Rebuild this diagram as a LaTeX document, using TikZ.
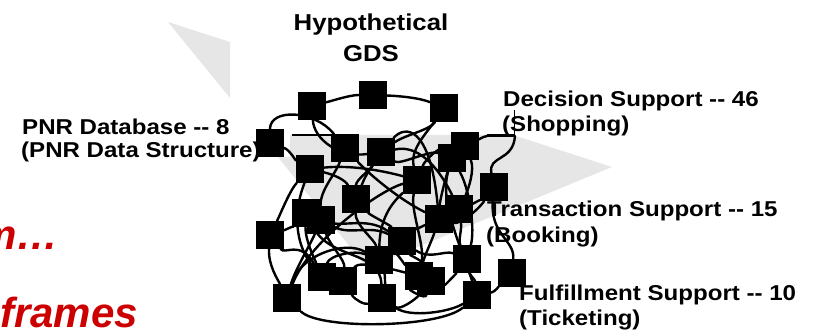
\documentclass[tikz,border=0pt]{standalone}
\usepackage{fontspec}
\setmainfont{Liberation Sans}
\newfontfamily\labf[FakeStretch=1.12]{Liberation Sans}
\definecolor{bggrey}{RGB}{230,230,230}
\definecolor{redtxt}{RGB}{204,0,0}
\begin{document}
\begin{tikzpicture}[x=1pt,y=-1pt,
  sq/.style={fill=black,draw=none,minimum size=28pt,inner sep=0pt,outer sep=0pt},
  wire/.style={line width=2.4pt,line cap=round},
  lab/.style={anchor=base west,inner sep=0pt,font=\labf\bfseries\fontsize{21.5pt}{24pt}\selectfont},
  ttl/.style={anchor=base,inner sep=0pt,font=\labf\bfseries\fontsize{23pt}{26pt}\selectfont},
  redlab/.style={anchor=base east,inner sep=0pt,text=redtxt,font=\bfseries\itshape\fontsize{42pt}{46pt}\selectfont}]
\useasboundingbox (0,0) rectangle (815,334);
% background grey triangle pieces
\fill[bggrey] (168,22) -- (230,42) -- (230,98) -- cycle;
\fill[bggrey] (290,135) -- (513,135) -- (612,167) -- (367,268) -- (278,157) -- (290,157) -- cycle;
% texts
\node[ttl] (t1) at (371,31) {Hypothetical};
\node[ttl] (t2) at (371,62) {GDS};
\node[lab] (l1) at (22,135) {PNR Database -- 8};
\node[lab] (l2) at (21,158) {(PNR Data Structure)};
\node[lab] (l3) at (503,107) {Decision Support -- 46};
\node[lab] (l4) at (502,132) {(Shopping)};
\node[lab] (l5) at (487,217) {Transaction Support -- 15};
\node[lab] (l6) at (486,243) {(Booking)};
\node[lab] (l7) at (519,300) {Fulfillment Support -- 10};
\node[lab] (l8) at (519,326) {(Ticketing)};
\node[redlab] (r1) at (59,250) {m…};
\node[redlab] (r2) at (138,327) {frames};
% squares
\node[sq] (s1) at (312,106) {};
\node[sq] (s2) at (373,95) {};
\node[sq] (s3) at (444,108) {};
\node[sq] (s4) at (270,143) {};
\node[sq] (s5) at (345,148) {};
\node[sq] (s6) at (381,152) {};
\node[sq] (s7) at (310,169) {};
\node[sq] (s9) at (452,158) {};
\node[sq] (s8) at (465,146) {};
\node[sq] (s10) at (417,180) {};
\node[sq] (s11) at (494,187) {};
\node[sq] (s12) at (356,199) {};
\node[sq] (s13) at (306,213) {};
\node[sq] (s14) at (321,220) {};
\node[sq] (s15) at (270,235) {};
\node[sq] (s17) at (439,219) {};
\node[sq] (s18) at (459,209) {};
\node[sq] (s19) at (402,241) {};
\node[sq] (s20) at (379,260) {};
\node[sq] (s21) at (467,259) {};
\node[sq] (s22) at (512,273) {};
\node[sq] (s23) at (322,277) {};
\node[sq] (s24) at (343,281) {};
\node[sq] (s25) at (419,276) {};
\node[sq] (s26) at (431,281) {};
\node[sq] (s27) at (287,298) {};
\node[sq] (s28) at (382,298) {};
\node[sq] (s29) at (477,295) {};
\coordinate (barL) at (487,136);
\coordinate (barR) at (515,136);
\coordinate (vtop) at (514,110);
\coordinate (vbot) at (514,135);
\coordinate (hl) at (292,135);
\coordinate (hr) at (332,135);
% odd bars
\draw[line width=1.2pt] (hl) -- (hr);
\draw[line width=3pt] (barL) -- (barR);
\draw[line width=1pt] (vtop) -- (vbot);
% connectors
\draw[wire] (s1) .. controls (335,100) and (350,95) .. (s2);
\draw[wire] (s2) .. controls (400,96) and (420,98) .. (s3);
\draw[wire] (s3) .. controls (430,130) and (405,135) .. (s6);
\draw[wire] (s1) .. controls (314,140) and (340,158) .. (s6);
\draw[wire] (s4) .. controls (270,108) and (315,110) .. (s5);
\draw[wire] (s4) .. controls (290,150) and (295,160) .. (s7);
\draw[wire] (s7) .. controls (350,165) and (380,170) .. (s10);
\draw[wire] (s7) .. controls (335,175) and (345,180) .. (s12);
\draw[wire] (s5) .. controls (335,175) and (320,190) .. (s14);
\draw[wire] (s6) .. controls (370,170) and (356,180) .. (s12);
\draw[wire] (s15) .. controls (280,215) and (290,190) .. (s7);
\draw[wire] (s15) .. controls (268,265) and (278,280) .. (s27);
\draw[wire] (s15) .. controls (285,230) and (295,225) .. (s13);
\draw[wire] (s27) .. controls (295,270) and (310,245) .. (s14);
\draw[wire] (s27) .. controls (310,240) and (380,190) .. (s10);
\draw[wire] (s27) .. controls (320,330) and (440,328) .. (s29);
\draw[wire] (s13) .. controls (305,240) and (315,260) .. (s23);
\draw[wire] (s14) .. controls (330,245) and (345,260) .. (s24);
\draw[wire] (s12) .. controls (370,215) and (390,225) .. (s19);
\draw[wire] (s12) .. controls (355,225) and (375,240) .. (s20);
\draw[wire] (s13) .. controls (340,230) and (365,215) .. (s19);
\draw[wire] (s24) .. controls (355,300) and (365,305) .. (s28);
\draw[wire] (s23) .. controls (330,255) and (355,250) .. (s20);
\draw[wire] (s28) .. controls (400,310) and (415,300) .. (s26);
\draw[wire] (s28) .. controls (410,318) and (450,312) .. (s29);
\draw[wire] (s20) .. controls (395,250) and (405,265) .. (s25);
\draw[wire] (s19) .. controls (415,230) and (425,225) .. (s17);
\draw[wire] (s19) .. controls (410,255) and (425,262) .. (s26);
\draw[wire] (s21) .. controls (470,275) and (475,280) .. (s29);
\draw[wire] (s21) .. controls (455,275) and (445,285) .. (s26);
\draw[wire] (s22) .. controls (500,285) and (495,292) .. (s29);
\draw[wire] (s22) .. controls (515,240) and (490,235) .. (s11);
\draw[wire] (s11) .. controls (488,155) and (513,162) .. (barR);
\draw[wire] (s8) .. controls (478,140) and (482,137) .. (barL);
\draw[wire] (s18) .. controls (470,205) and (480,200) .. (s11);
\draw[wire] (s17) .. controls (460,225) and (478,210) .. (s11);
\draw[wire] (s18) .. controls (462,230) and (458,240) .. (s21);
\draw[wire] (s9) .. controls (470,190) and (475,230) .. (s21);
\draw[wire] (s8) .. controls (475,170) and (468,190) .. (s18);
\draw[wire] (s10) .. controls (425,160) and (440,145) .. (s8);
\draw[wire] (s6) .. controls (400,165) and (430,150) .. (s9);
\draw[wire] (s3) .. controls (425,135) and (410,150) .. (s10);
\draw[wire] (s6) .. controls (405,125) and (430,125) .. (s17);
\draw[wire] (s12) .. controls (380,140) and (420,130) .. (s18);
\draw[wire] (s10) .. controls (410,210) and (425,245) .. (s25);
\draw[wire] (s17) .. controls (432,240) and (425,255) .. (s25);
\draw[wire] (s14) .. controls (350,235) and (370,225) .. (s19);
\draw[wire] (s20) .. controls (385,275) and (385,285) .. (s28);
\draw[wire] (s25) .. controls (410,290) and (425,300) .. (s26);
\draw[wire] (s19) .. controls (430,260) and (445,250) .. (s21);
\draw[wire] (s9) .. controls (445,180) and (440,200) .. (s17);
\draw[wire] (s27) .. controls (300,255) and (345,240) .. (s20);
\draw[wire] (s23) .. controls (300,250) and (290,220) .. (s7);
\draw[wire] (s5) .. controls (370,175) and (400,200) .. (s17);
\draw[wire] (s13) .. controls (330,260) and (380,250) .. (s28);
\draw[wire] (s24) .. controls (360,260) and (395,270) .. (s25);
\draw[wire] (s10) .. controls (395,200) and (380,215) .. (s20);
\draw[wire] (s9) .. controls (440,200) and (458,240) .. (s29);
\draw[wire] (s15) .. controls (285,255) and (300,240) .. (s23);
\end{tikzpicture}
\end{document}
